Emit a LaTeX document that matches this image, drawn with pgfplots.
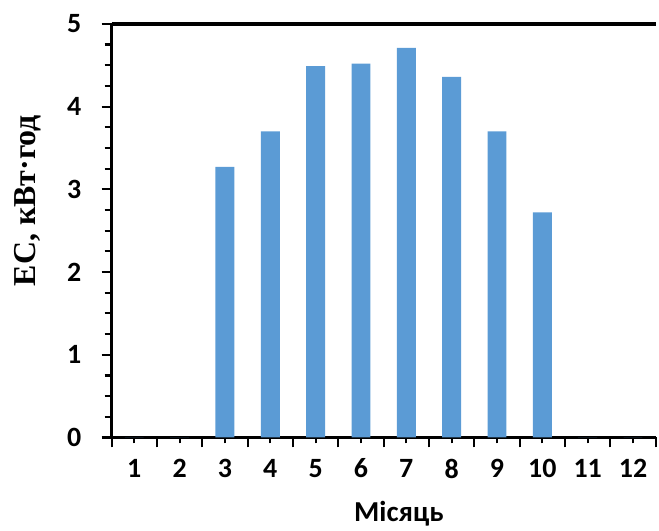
\documentclass[border=0pt]{standalone}
\usepackage{fontspec}
\setmainfont{Carlito}
\newfontfamily\tnr{Liberation Serif}
\usepackage{pgfplots}
\pgfplotsset{compat=1.18}
\definecolor{barblue}{HTML}{5B9BD5}
\begin{document}
\begin{tikzpicture}
\begin{axis}[
  scale only axis,
  width=546pt, height=415pt,
  xmin=0.5, xmax=12.5, ymin=0, ymax=5,
  separate axis lines,
  axis x line*=bottom, axis y line*=left,
  every outer x axis line/.append style={-, line width=3.2pt, black},
  every outer y axis line/.append style={-, line width=3.2pt, black},
  x axis line style={-, line width=3.2pt},
  y axis line style={-, line width=3.2pt},
  xtick={0.5,1.5,...,12.5},
  xticklabels={},
  extra x ticks={1,2,...,12},
  extra x tick labels={1,2,3,4,5,6,7,8,9,10,11,12},
  extra tick style={major tick length=6pt},
  ytick={0,1,2,3,4,5},
  minor ytick={0.25,0.5,...,4.75},
  tick align=outside,
  major tick length=10pt,
  minor tick length=7pt,
  every tick/.style={line width=2.2pt, black},
  major tick style={line width=2.2pt, black},
  minor tick style={line width=2.2pt, black},
  /pgf/number format/assume math mode=true,
  tick label style={font=\fontsize{28}{32}\selectfont\bfseries},
  xticklabel style={yshift=-12pt},
  yticklabel style={xshift=-17pt},
  xlabel={Місяць},
  ylabel={\tnr ЕС, кВт·год},
  xlabel style={font=\fontsize{29}{34}\selectfont\bfseries, inner sep=0pt, at={(axis description cs:0.528,-0.2024)}, anchor=base},
  ylabel style={font=\fontsize{32}{36}\selectfont\bfseries, inner sep=0pt, at={(axis description cs:-0.154,0.573)}, anchor=center, rotate=0},
  ybar, bar width=19pt,
  clip=false,
]
\addplot[fill=barblue, draw=none] coordinates {
  (1,0) (2,0) (3,3.27) (4,3.70) (5,4.49) (6,4.52) (7,4.71) (8,4.36) (9,3.70) (10,2.72) (11,0) (12,0)
};
\draw[line width=3.2pt, black] (rel axis cs:0,1) -- (rel axis cs:1,1);
\path (rel axis cs:0,0) ++(-112pt,-93pt) (rel axis cs:1,1) ++(1pt,24pt);
\end{axis}
\end{tikzpicture}
\end{document}
